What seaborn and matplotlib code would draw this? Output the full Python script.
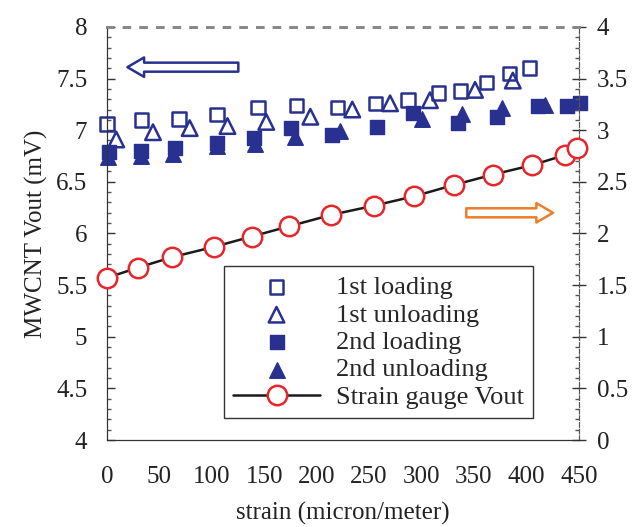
import matplotlib
matplotlib.use("Agg")
import matplotlib.pyplot as plt
import seaborn as sns
from matplotlib.ticker import MultipleLocator

# ------------------- data ------------------- #
load1_x = [0, 33, 69, 105, 144, 181, 220, 256, 287, 316, 337, 362, 384, 403]
load1_y = [7.06, 7.10, 7.11, 7.15, 7.22, 7.24, 7.22, 7.26, 7.29, 7.36, 7.38, 7.46, 7.55, 7.60]

unload1_x = [9, 44, 79, 115, 152, 194, 234, 270, 308, 351, 387]
unload1_y = [6.91, 6.98, 7.02, 7.04, 7.08, 7.13, 7.20, 7.26, 7.29, 7.39, 7.48]

load2_x = [2, 33, 65, 105, 140, 176, 215, 258, 292, 335, 372, 411, 439, 451]
load2_y = [6.79, 6.80, 6.83, 6.88, 6.92, 7.02, 6.95, 7.03, 7.17, 7.07, 7.13, 7.23, 7.23, 7.26]

unload2_x = [1, 33, 63, 105, 141, 179, 222, 300, 339, 377, 418]
unload2_y = [6.74, 6.75, 6.77, 6.85, 6.87, 6.93, 6.99, 7.11, 7.16, 7.21, 7.24]

gauge_x = [0, 30, 62, 102, 138, 174, 214, 255, 293, 331, 368, 405, 437, 448]
gauge_y = [1.57, 1.67, 1.77, 1.87, 1.97, 2.07, 2.18, 2.27, 2.36, 2.47, 2.57, 2.66, 2.76, 2.83]

blue = "#28318f"
red = "#e8252b"
orange = "#ee7d2b"

# ------------------- plot ------------------- #
sns.set_style("white")
plt.rcParams['font.family'] = ['Liberation Serif', 'DejaVu Serif']

fig = plt.figure(figsize=(6.32, 5.27), dpi=100)
ax = fig.add_axes([0.169, 0.165, 0.747, 0.784])
ax2 = ax.twinx()

sns.scatterplot(x=load1_x, y=load1_y, marker='s', s=95, facecolor='none',
                edgecolor=blue, linewidth=1.8, ax=ax, label='1st loading', clip_on=False, zorder=3)
sns.scatterplot(x=unload1_x, y=unload1_y, marker='^', s=125, facecolor='none',
                edgecolor=blue, linewidth=1.8, ax=ax, label='1st unloading', clip_on=False, zorder=3)
sns.scatterplot(x=load2_x, y=load2_y, marker='s', s=95, color=blue,
                edgecolor=blue, linewidth=1, ax=ax, label='2nd loading', clip_on=False, zorder=3)
sns.scatterplot(x=unload2_x, y=unload2_y, marker='^', s=125, color=blue,
                edgecolor=blue, linewidth=1, ax=ax, label='2nd unloading', clip_on=False, zorder=3)
sns.lineplot(x=gauge_x, y=gauge_y, color='#1a1a1a', linewidth=1.8, marker='o', markersize=14,
             markerfacecolor='white', markeredgecolor=red, markeredgewidth=1.8,
             ax=ax2, label='Strain gauge Vout', clip_on=False, zorder=3)

# keep the first two series hollow
for coll in ax.collections[:2]:
    coll.set_facecolor('none')
    coll.set_edgecolor(blue)

ax.set_xlim(0, 450)
ax.set_ylim(4, 8)
ax2.set_ylim(0, 4)

ax.xaxis.set_major_locator(MultipleLocator(50))
ax.xaxis.set_minor_locator(MultipleLocator(10))
ax.yaxis.set_major_locator(MultipleLocator(0.5))
ax.yaxis.set_minor_locator(MultipleLocator(0.1))
ax2.yaxis.set_major_locator(MultipleLocator(0.5))
ax2.yaxis.set_minor_locator(MultipleLocator(0.1))

ax.yaxis.set_major_formatter(plt.FuncFormatter(lambda v, p: f"{v:g}"))
ax2.yaxis.set_major_formatter(plt.FuncFormatter(lambda v, p: f"{v:g}"))

ax.tick_params(axis='both', which='major', direction='in', length=6, width=1,
               labelsize=18, colors='#333333', labelcolor='#222222')
ax.tick_params(axis='x', which='major', pad=19)
ax.tick_params(axis='y', which='major', pad=14)
ax.tick_params(axis='both', which='minor', direction='in', length=3, width=1, colors='#555555')
ax.tick_params(axis='x', which='both', top=False)
ax2.tick_params(axis='y', which='major', direction='inout', length=10, width=1,
                labelsize=18, colors='#333333', labelcolor='#222222', pad=8)
ax2.tick_params(axis='y', which='minor', direction='in', length=3, width=1, colors='#555555')

for a in (ax, ax2):
    a.spines['left'].set_color('#333333')
    a.spines['bottom'].set_color('#333333')
    a.spines['top'].set_color('#888888')
    a.spines['top'].set_linestyle((0, (2, 4)))
    a.spines['top'].set_linewidth(2)
    a.spines['right'].set_color('#555555')
    a.spines['right'].set_linestyle((0, (4, 2)))

ax.set_xlabel("strain (micron/meter)", fontsize=18, color='#222222', labelpad=10)
ax.set_ylabel("MWCNT Vout (mV)", fontsize=18, color='#222222', labelpad=6)
ax2.set_ylabel("")

# direction arrows
ax.annotate("", xy=(17, 7.61), xytext=(128, 7.61),
            arrowprops=dict(arrowstyle="simple,head_length=1.2,head_width=1.4,tail_width=0.65",
                            fc='white', ec=blue, lw=1.8))
ax2.annotate("", xy=(428, 2.20), xytext=(340, 2.20),
             arrowprops=dict(arrowstyle="simple,head_length=1.2,head_width=1.4,tail_width=0.65",
                             fc='white', ec=orange, lw=1.8))

# combined legend
h1, l1 = ax.get_legend_handles_labels()
h2, l2 = ax2.get_legend_handles_labels()
if ax.get_legend():
    ax.get_legend().remove()
if ax2.get_legend():
    ax2.get_legend().remove()
leg = ax2.legend(h1 + h2, l1 + l2, loc='lower right', bbox_to_anchor=(0.903, 0.053),
                 borderaxespad=0, fontsize=19, frameon=True, fancybox=False,
                 edgecolor='#333333', framealpha=1, handlelength=3.3, handletextpad=0.6,
                 labelspacing=0.15, borderpad=0.35)
leg.get_frame().set_linewidth(1)

fig.savefig("out.png", dpi=100)
